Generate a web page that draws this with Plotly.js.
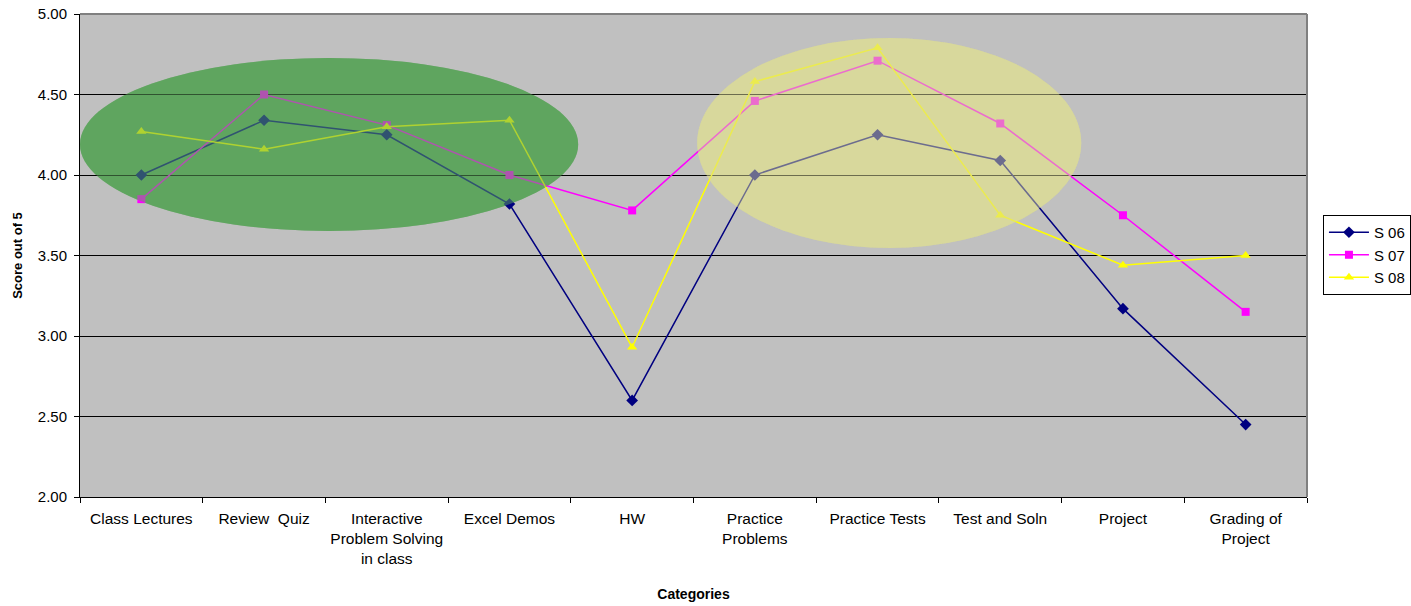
<!DOCTYPE html>
<html>
<head>
<meta charset="utf-8">
<script src="https://cdn.plot.ly/plotly-3.0.1.min.js"></script>
<style>html,body{margin:0;padding:0;background:#fff}#chart{width:1411px;height:606px}</style>
</head>
<body>
<div id="chart"></div>
<script>
var categories = ["Class Lectures", "Review  Quiz", "Interactive<br>Problem Solving<br>in class", "Excel Demos", "HW", "Practice<br>Problems", "Practice Tests", "Test and Soln", "Project", "Grading of<br>Project"];
var s06 = [4.00, 4.34, 4.25, 3.82, 2.60, 4.00, 4.25, 4.09, 3.17, 2.45];
var s07 = [3.85, 4.50, 4.31, 4.00, 3.78, 4.46, 4.71, 4.32, 3.75, 3.15];
var s08 = [4.27, 4.16, 4.30, 4.34, 2.93, 4.58, 4.79, 3.75, 3.44, 3.50];
var yTicks = [2.0, 2.5, 3.0, 3.5, 4.0, 4.5, 5.0];
var yTickText = ["2.00", "2.50", "3.00", "3.50", "4.00", "4.50", "5.00"];

function tr(name, y, color, symbol, size) {
  return {
    type: 'scatter', mode: 'lines+markers', name: name, x: categories, y: y,
    line: {color: color, width: 1.5},
    marker: {color: color, symbol: symbol, size: size, line: {width: 0}}
  };
}

var data = [
  tr('S 06', s06, '#000080', 'diamond', 9),
  tr('S 07', s07, '#FF00FF', 'square', 8),
  tr('S 08', s08, '#FFFF00', 'triangle-up', 9)
];

function ellipse(x0, x1, y0, y1, color, layer, op) {
  return {type: 'circle', xref: 'x', yref: 'y', x0: x0, x1: x1, y0: y0, y1: y1,
    fillcolor: color, opacity: op, line: {width: 0}, layer: layer};
}

var layout = {
  width: 1411, height: 606,
  margin: {l: 80, r: 104, t: 14, b: 109, autoexpand: false},
  paper_bgcolor: '#ffffff', plot_bgcolor: '#C0C0C0',
  font: {family: 'Liberation Sans, Arial, sans-serif', size: 15, color: '#000'},
  showlegend: true,
  legend: {x: 1.013, xanchor: 'left', y: 0.501, yanchor: 'middle',
    bordercolor: '#000', borderwidth: 1, bgcolor: '#fff',
    font: {size: 15}, tracegroupgap: 0, itemwidth: 40},
  xaxis: {
    type: 'category', range: [-0.5, 9.5],
    showgrid: false, zeroline: false,
    showline: true, linecolor: '#000', linewidth: 1,
    ticks: 'outside', ticklen: 5, tickcolor: '#000',
    tickfont: {size: 15.5}, tickson: 'boundaries', ticklabelstandoff: 7,
    title: {text: '<b>Categories</b>', font: {size: 14}, standoff: 23}
  },
  yaxis: {
    range: [2, 5], tickmode: 'array', tickvals: yTicks, ticktext: yTickText,
    showgrid: true, gridcolor: '#000', gridwidth: 1, zeroline: false,
    showline: true, linecolor: '#000', linewidth: 1,
    ticks: 'outside', ticklen: 5, tickcolor: '#000',
    tickfont: {size: 15}, ticklabelstandoff: 4,
    title: {text: '<b>Score out of 5</b>', font: {size: 13}, standoff: 12}
  },
  shapes: [
    ellipse(-0.5, 3.56, 3.652, 4.727, '#5FA55F', 'below', 1),
    ellipse(-0.5, 3.56, 3.652, 4.727, '#5FA55F', 'above', 0.5),
    ellipse(4.53, 7.66, 3.547, 4.851, '#D8D89C', 'below', 1),
    ellipse(4.53, 7.66, 3.547, 4.851, '#D8D89C', 'above', 0.5),
    {type: 'line', xref: 'paper', yref: 'paper', x0: 1, x1: 1, y0: 0, y1: 1,
      line: {color: '#808080', width: 2}, layer: 'above'},
    {type: 'line', xref: 'paper', yref: 'paper', x0: 0, x1: 1, y0: 1, y1: 1,
      line: {color: '#808080', width: 2}, layer: 'above'}
  ]
};

Plotly.newPlot('chart', data, layout, {displayModeBar: false, staticPlot: true});
</script>
</body>
</html>
